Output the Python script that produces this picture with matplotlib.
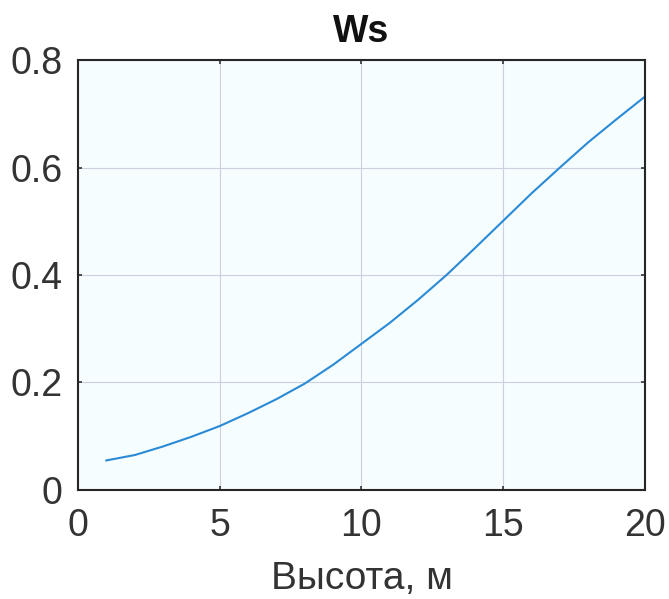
import matplotlib

matplotlib.use("Agg")

import matplotlib.pyplot as plt

# data
height_m = [1, 2, 3, 4, 5, 6, 7, 8, 9, 10, 11, 12, 13, 14, 15, 16, 17, 18, 19, 20]
ws = [0.055, 0.065, 0.081, 0.099, 0.119, 0.143, 0.169, 0.198, 0.233, 0.272,
      0.311, 0.354, 0.400, 0.450, 0.501, 0.552, 0.600, 0.647, 0.690, 0.732]
x_ticks = [0, 5, 10, 15, 20]
y_ticks = [0, 0.2, 0.4, 0.6, 0.8]
y_tick_labels = ["0", "0.2", "0.4", "0.6", "0.8"]

plt.rcParams["font.family"] = ["Liberation Sans", "DejaVu Sans"]

fig = plt.figure(figsize=(6.69, 5.99), dpi=100)
ax = fig.add_axes([0.1166, 0.182, 0.8475, 0.7178])
ax.set_facecolor("#f6fdff")

ax.plot(height_m, ws, color="#2a8ad6", lw=1.5)

ax.set_xlim(0, 20)
ax.set_ylim(0, 0.8)
ax.set_xticks(x_ticks)
ax.set_yticks(y_ticks)
ax.set_yticklabels(y_tick_labels)
ax.grid(True, color="#ccd0dc", lw=0.8)
ax.set_axisbelow(True)

ax.tick_params(direction="in", length=3, width=1.2, labelsize=27, colors="#333333",
               top=True, right=True)
ax.tick_params(axis="x", pad=13)
ax.tick_params(axis="y", pad=11)
for spine in ax.spines.values():
    spine.set_linewidth(1.5)
    spine.set_color("#262626")

ax.set_title("Ws", fontsize=27, fontweight="bold", color="#111111", pad=13)
ax.set_xlabel("Высота, м", fontsize=28, color="#333333", labelpad=12)

fig.savefig("out.png", dpi=100)
